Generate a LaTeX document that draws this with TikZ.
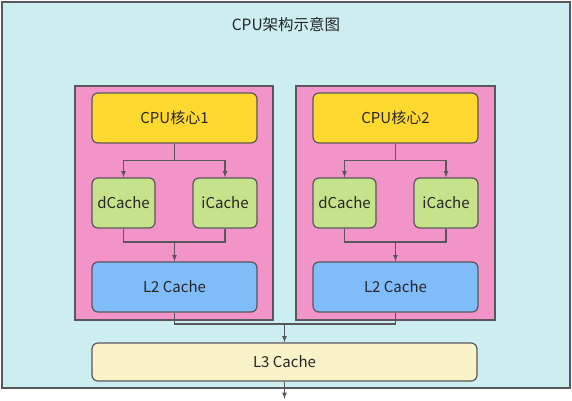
\documentclass[tikz,border=0pt]{standalone}
\usepackage{fontspec}
\setmainfont{Noto Sans CJK SC}
\usetikzlibrary{arrows}
\tikzset{>=latex}
\definecolor{boardColour}{RGB}{204,238,240}
\definecolor{groupColour}{RGB}{242,148,200}
\definecolor{coreColour}{RGB}{255,217,47}
\definecolor{l1Colour}{RGB}{198,226,139}
\definecolor{l2Colour}{RGB}{128,187,250}
\definecolor{l3Colour}{RGB}{250,243,202}
\definecolor{lineColour}{RGB}{88,88,92}
\tikzset{
	unit/.style={draw=lineColour, line width=1.2pt, rounded corners=6pt, font=\fontsize{15}{17}\selectfont, text=black!85},
	wire/.style={draw=lineColour, line width=1.2pt}
}

\begin{document}
\begin{tikzpicture}[x=1pt, y=-1pt]
		\useasboundingbox (0, 0) rectangle (572, 400);

		% the board
		\draw[fill=boardColour, draw=lineColour, line width=1.2pt] (2, 2) rectangle (570, 388);
		\node[font=\fontsize{15.5}{17}\selectfont, text=black!85] (title) at (286, 25) {CPU架构示意图};

		% the two core groups
		\draw[fill=groupColour, draw=lineColour, line width=1.2pt] (75, 86) rectangle (273, 320);
		\draw[fill=groupColour, draw=lineColour, line width=1.2pt] (296, 86) rectangle (495, 320);

		% first core
		\node[unit, fill=coreColour, minimum width=165, minimum height=50] (core1) at (174.5, 118) {CPU核心1};
		\node[unit, fill=l1Colour, minimum width=63, minimum height=50] (dcache1) at (123.5, 203) {dCache};
		\node[unit, fill=l1Colour, minimum width=64, minimum height=50] (icache1) at (225, 203) {iCache};
		\node[unit, fill=l2Colour, minimum width=165, minimum height=50] (ltwo1) at (174.5, 287) {L2 Cache};

		% second core
		\node[unit, fill=coreColour, minimum width=165, minimum height=50] (core2) at (395.5, 118) {CPU核心2};
		\node[unit, fill=l1Colour, minimum width=63, minimum height=50] (dcache2) at (344.5, 203) {dCache};
		\node[unit, fill=l1Colour, minimum width=64, minimum height=50] (icache2) at (446, 203) {iCache};
		\node[unit, fill=l2Colour, minimum width=165, minimum height=50] (ltwo2) at (395.5, 287) {L2 Cache};

		% shared cache
		\node[unit, fill=l3Colour, minimum width=385, minimum height=38] (lthree) at (284.5, 362) {L3 Cache};

		% core to L1
		\draw[wire, ->] (core1.south) -- ++(0, 17) -| (dcache1.north);
		\draw[wire, ->] (core1.south) -- ++(0, 17) -| (icache1.north);
		\draw[wire, ->] (core2.south) -- ++(0, 17) -| (dcache2.north);
		\draw[wire, ->] (core2.south) -- ++(0, 17) -| (icache2.north);

		% L1 to L2
		\coordinate (join1) at (174.5, 242);
		\coordinate (join2) at (395.5, 242);
		\draw[wire] (dcache1.south) |- (join1) -| (icache1.south);
		\draw[wire, ->] (join1) -- (ltwo1.north);
		\draw[wire] (dcache2.south) |- (join2) -| (icache2.south);
		\draw[wire, ->] (join2) -- (ltwo2.north);

		% L2 to L3
		\coordinate (join3) at (284.5, 324);
		\draw[wire] (ltwo1.south) |- (join3) -| (ltwo2.south);
		\draw[wire, ->] (join3) -- (lthree.north);
		\coordinate (memory) at (284.5, 399);
		\draw[wire, ->] (lthree.south) -- (memory);
	\end{tikzpicture}
\end{document}
